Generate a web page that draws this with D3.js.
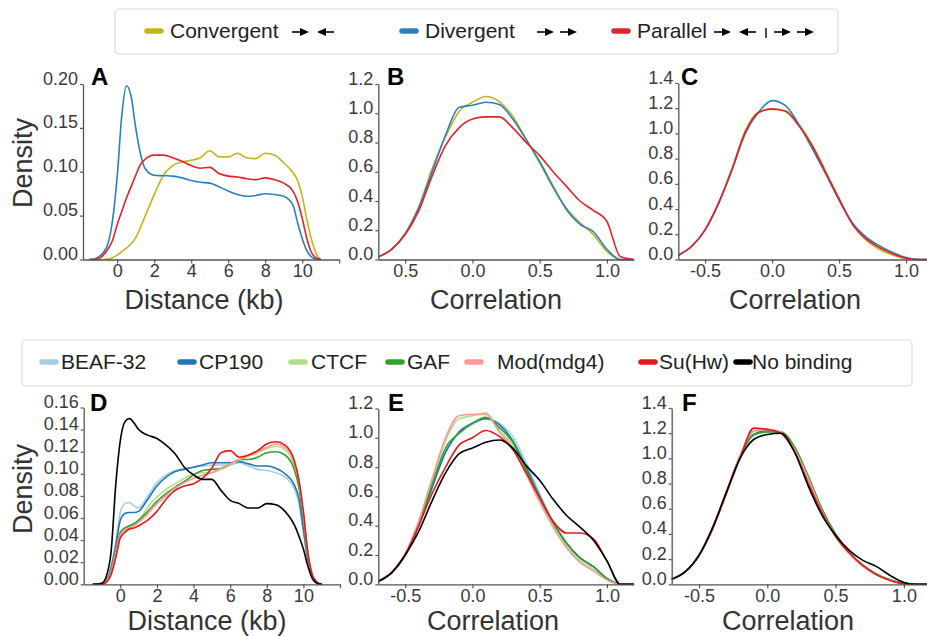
<!DOCTYPE html>
<html><head><meta charset="utf-8">
<script src="https://cdn.jsdelivr.net/npm/d3@7"></script>
<style>body{margin:0;background:#fff;} svg text{font-family:"Liberation Sans",Arial,sans-serif;}</style>
</head><body>
<script>
// ---------- categories & colours ----------
const orientNames = ["Convergent", "Divergent", "Parallel"];
const orientColors = ["#c4b41c", "#2a7fc1", "#e0242b"];
const factorNames = ["BEAF-32", "CP190", "CTCF", "GAF", "Mod(mdg4)", "Su(Hw)", "No binding"];
const factorColors = ["#a6cee3", "#1f78b4", "#b2df8a", "#33a02c", "#fb9a99", "#e31a1c", "#000000"];

// ---------- tick labels ----------
const distTicks = [0, 2, 4, 6, 8, 10, 12];
const distTickLabels = ["0", "2", "4", "6", "8", "10", ""];
const corrTicks = [-0.5, 0, 0.5, 1.0];
const corrTickLabelsB = ["0.5", "0.0", "0.5", "1.0"];
const corrTickLabels = ["-0.5", "0.0", "0.5", "1.0"];
const yTicksA = [0, 0.05, 0.10, 0.15, 0.20];
const yTicksB = [0, 0.2, 0.4, 0.6, 0.8, 1.0, 1.2];
const yTicksC = [0, 0.2, 0.4, 0.6, 0.8, 1.0, 1.2, 1.4];
const yTicksD = [0, 0.02, 0.04, 0.06, 0.08, 0.10, 0.12, 0.14, 0.16];

// ---------- panel A: distance density by orientation ----------
const gridA = [-1.5,-1.25,-1,-0.75,-0.5,-0.25,0,0.25,0.5,0.75,1,1.25,1.5,2,2.5,3,3.5,4,4.5,5,5.5,6,6.5,7,7.5,8,8.5,9,9.5,9.75,10,10.25,10.5,10.75,11];
const A_Convergent = [0,0,0,0,0.0005,0.002,0.005,0.009,0.013,0.018,0.025,0.036,0.049,0.074,0.096,0.107,0.111,0.113,0.116,0.124,0.117,0.117,0.121,0.116,0.115,0.121,0.119,0.110,0.099,0.090,0.072,0.046,0.023,0.007,0];
const A_Divergent = [0,0.0005,0.003,0.008,0.018,0.045,0.095,0.165,0.198,0.186,0.150,0.121,0.104,0.096,0.0955,0.095,0.093,0.090,0.088,0.087,0.083,0.078,0.074,0.072,0.073,0.075,0.074,0.072,0.062,0.042,0.024,0.010,0.003,0.0005,0];
const A_Parallel = [0,0,0.001,0.005,0.012,0.022,0.040,0.055,0.070,0.083,0.096,0.108,0.114,0.119,0.119,0.116,0.112,0.107,0.104,0.105,0.098,0.095,0.094,0.092,0.091,0.093,0.091,0.087,0.078,0.066,0.047,0.024,0.008,0.002,0];

// ---------- correlation grid (B, C, E, F) ----------
const gridCorr = [-0.7,-0.6,-0.5,-0.4,-0.3,-0.2,-0.1,0,0.1,0.2,0.3,0.4,0.5,0.6,0.7,0.8,0.9,1.0,1.1,1.2];

// panel B
const B_Convergent = [0.018,0.07,0.18,0.36,0.62,0.84,1.01,1.075,1.115,1.08,0.98,0.82,0.66,0.49,0.35,0.25,0.17,0.055,0,0];
const B_Divergent = [0.018,0.07,0.175,0.35,0.60,0.85,1.04,1.055,1.075,1.06,0.96,0.82,0.67,0.50,0.34,0.24,0.19,0.07,0,0];
const B_Parallel = [0.018,0.07,0.17,0.33,0.57,0.78,0.90,0.96,0.975,0.975,0.90,0.80,0.71,0.60,0.50,0.40,0.335,0.26,0.02,0];

// panel C
const C_Convergent = [0.034,0.105,0.235,0.445,0.72,1.02,1.17,1.19,1.18,1.07,0.91,0.70,0.48,0.28,0.155,0.08,0.035,0.006,0,0];
const C_Divergent = [0.034,0.105,0.235,0.445,0.71,1.0,1.17,1.26,1.22,1.07,0.88,0.68,0.47,0.29,0.18,0.11,0.055,0.015,0,0];
const C_Parallel = [0.034,0.105,0.235,0.445,0.71,1.01,1.165,1.195,1.175,1.06,0.90,0.69,0.48,0.28,0.165,0.095,0.045,0.01,0,0];

// ---------- panel D: distance density by insulator protein ----------
const gridD = [-1.5,-1,-0.75,-0.5,-0.25,0,0.25,0.5,0.75,1,1.5,2,2.5,3,3.5,4,4.5,5,5.5,6,6.5,7,7.5,8,8.5,9,9.5,9.75,10,10.25,10.5,10.75,11];
const D_BEAF32 = [0,0.001,0.004,0.016,0.038,0.065,0.073,0.074,0.071,0.069,0.080,0.092,0.099,0.103,0.105,0.106,0.107,0.108,0.108,0.108,0.110,0.107,0.104,0.103,0.101,0.097,0.087,0.074,0.047,0.020,0.005,0.001,0];
const D_CP190 = [0,0.001,0.004,0.015,0.035,0.058,0.064,0.065,0.065,0.066,0.077,0.089,0.097,0.102,0.104,0.106,0.108,0.110,0.110,0.110,0.111,0.109,0.107,0.107,0.105,0.100,0.090,0.078,0.050,0.022,0.006,0.001,0];
const D_CTCF = [0,0,0.003,0.012,0.030,0.046,0.050,0.052,0.054,0.057,0.070,0.079,0.086,0.091,0.096,0.100,0.101,0.101,0.104,0.108,0.113,0.116,0.119,0.123,0.125,0.122,0.108,0.092,0.062,0.026,0.007,0.001,0];
const D_GAF = [0,0,0.003,0.012,0.030,0.047,0.051,0.053,0.055,0.058,0.066,0.075,0.082,0.088,0.093,0.099,0.103,0.104,0.105,0.109,0.113,0.113,0.115,0.119,0.120,0.117,0.104,0.088,0.058,0.024,0.007,0.001,0];
const D_Mod = [0,0,0.003,0.011,0.028,0.045,0.049,0.051,0.053,0.056,0.064,0.073,0.080,0.087,0.092,0.096,0.099,0.101,0.105,0.109,0.113,0.116,0.120,0.124,0.127,0.124,0.110,0.094,0.063,0.027,0.008,0.001,0];
const D_SuHw = [0,0,0.002,0.009,0.024,0.042,0.047,0.050,0.051,0.053,0.058,0.066,0.077,0.085,0.089,0.091,0.096,0.105,0.119,0.121,0.115,0.117,0.121,0.127,0.129,0.126,0.112,0.095,0.066,0.028,0.008,0.002,0];
const D_None = [0,0.001,0.008,0.030,0.090,0.130,0.147,0.150,0.146,0.140,0.135,0.132,0.126,0.118,0.106,0.099,0.095,0.095,0.085,0.076,0.073,0.069,0.069,0.073,0.072,0.066,0.054,0.044,0.032,0.016,0.005,0.001,0];

// panel E
const E_BEAF32 = [0.02,0.08,0.20,0.40,0.66,0.90,1.03,1.09,1.13,1.10,1.01,0.83,0.62,0.43,0.28,0.18,0.12,0.04,0,0];
const E_CP190 = [0.02,0.08,0.20,0.40,0.66,0.90,1.04,1.10,1.13,1.09,0.98,0.80,0.60,0.42,0.28,0.18,0.12,0.04,0,0];
const E_CTCF = [0.02,0.08,0.21,0.42,0.70,0.98,1.13,1.15,1.17,1.05,0.95,0.76,0.57,0.40,0.26,0.16,0.10,0.03,0,0];
const E_GAF = [0.02,0.08,0.20,0.41,0.68,0.93,1.03,1.10,1.14,1.07,0.97,0.78,0.59,0.42,0.28,0.18,0.12,0.04,0,0];
const E_Mod = [0.02,0.08,0.21,0.43,0.72,1.00,1.15,1.16,1.16,1.04,0.93,0.75,0.56,0.39,0.25,0.15,0.09,0.03,0,0];
const E_SuHw = [0.02,0.08,0.20,0.40,0.62,0.80,0.95,1.00,1.05,1.01,0.92,0.76,0.59,0.43,0.35,0.35,0.31,0.16,0,0];
const E_None = [0.02,0.08,0.20,0.36,0.57,0.76,0.89,0.93,0.97,0.985,0.93,0.81,0.71,0.58,0.47,0.39,0.30,0.16,0,0];

// panel F
const F_BEAF32 = [0.04,0.10,0.23,0.45,0.73,1.02,1.18,1.21,1.21,1.07,0.83,0.58,0.39,0.25,0.15,0.08,0.035,0.008,0,0];
const F_CP190 = [0.04,0.10,0.23,0.45,0.73,1.02,1.19,1.22,1.21,1.07,0.84,0.58,0.39,0.25,0.15,0.08,0.035,0.008,0,0];
const F_CTCF = [0.04,0.10,0.23,0.45,0.73,1.02,1.21,1.23,1.21,1.08,0.85,0.59,0.39,0.25,0.15,0.08,0.035,0.008,0,0];
const F_GAF = [0.04,0.10,0.23,0.45,0.73,1.01,1.19,1.21,1.21,1.09,0.86,0.60,0.40,0.25,0.15,0.08,0.035,0.008,0,0];
const F_Mod = [0.04,0.10,0.23,0.45,0.73,1.02,1.22,1.23,1.21,1.07,0.84,0.58,0.38,0.24,0.14,0.075,0.03,0.006,0,0];
const F_SuHw = [0.04,0.10,0.23,0.44,0.72,1.00,1.24,1.23,1.20,1.05,0.80,0.57,0.38,0.25,0.15,0.075,0.03,0.005,0,0];
const F_None = [0.04,0.10,0.23,0.45,0.73,1.00,1.15,1.19,1.20,1.05,0.78,0.55,0.39,0.27,0.19,0.14,0.07,0.015,0,0];

// ---------- drawing ----------
const FONT = "Liberation Sans, Arial, sans-serif";
const svg = d3.select("body").append("svg").attr("width", 927).attr("height", 636)
  .style("background", "#fff");

function drawPanel(p) {
  const x = d3.scaleLinear().domain(p.xDomain).range(p.xRange);
  const y = d3.scaleLinear().domain(p.yDomain).range(p.yRange);
  const g = svg.append("g");

  const line = d3.line().x((d, i) => x(p.grid[i])).y(d => y(d)).curve(d3.curveMonotoneX);
  p.series.forEach((vals, i) => {
    g.append("path").attr("d", line(vals)).attr("fill", "none")
      .attr("stroke", p.colors[i]).attr("stroke-width", 1.6).attr("stroke-linejoin", "round");
  });

  const xa = g.append("g").attr("transform", `translate(0,${p.yRange[0]})`)
    .call(d3.axisBottom(x).tickValues(p.xTicks).tickSizeInner(4).tickSizeOuter(0).tickPadding(1)
      .tickFormat((d, i) => p.xLabels[i]));
  const ya = g.append("g").attr("transform", `translate(${p.xRange[0]},0)`)
    .call(d3.axisLeft(y).tickValues(p.yTicks).tickSizeInner(3).tickSizeOuter(0).tickPadding(2)
      .tickFormat(p.yFmt));
  ya.selectAll("text").attr("dy", "0");
  [xa, ya].forEach(a => {
    a.attr("font-size", 18).attr("font-family", FONT);
    a.select(".domain").attr("stroke", "#555").attr("stroke-width", 1.3);
    a.selectAll(".tick line").attr("stroke", "#555").attr("stroke-width", 1.2);
    a.selectAll(".tick text").attr("fill", "#3a3a3a");
  });

  g.append("text").attr("x", p.letterX).attr("y", p.letterY).text(p.letter)
    .attr("font-family", FONT).attr("font-weight", "bold").attr("font-size", 24).attr("fill", "#000");

  g.append("text").attr("x", p.xTitleX).attr("y", p.xTitleY).attr("dy", "0.35em")
    .attr("text-anchor", "middle").attr("font-family", FONT).attr("font-size", 27)
    .attr("fill", "#333").text(p.xTitle);

  if (p.yTitle) {
    g.append("text").attr("transform", `translate(${p.yTitleX},${p.yTitleY}) rotate(-90)`)
      .attr("dy", "0.35em").attr("text-anchor", "middle").attr("font-family", FONT)
      .attr("font-size", 27).attr("fill", "#333").text(p.yTitle);
  }
}

const f2 = d3.format(".2f"), f1 = d3.format(".1f");
const orientSeries = { A: [A_Convergent, A_Divergent, A_Parallel], B: [B_Convergent, B_Divergent, B_Parallel], C: [C_Convergent, C_Divergent, C_Parallel] };
const factorSeries = {
  D: [D_BEAF32, D_CP190, D_CTCF, D_GAF, D_Mod, D_SuHw, D_None],
  E: [E_BEAF32, E_CP190, E_CTCF, E_GAF, E_Mod, E_SuHw, E_None],
  F: [F_BEAF32, F_CP190, F_CTCF, F_GAF, F_Mod, F_SuHw, F_None]
};

// top row
drawPanel({ grid: gridA, series: orientSeries.A, colors: orientColors,
  xDomain: [-1.85, 12], xRange: [83, 339.2], yDomain: [0, 0.2], yRange: [259.5, 84],
  xTicks: distTicks, xLabels: distTickLabels, yTicks: yTicksA, yFmt: f2,
  letter: "A", letterX: 91, letterY: 85, xTitle: "Distance (kb)", xTitleX: 204, xTitleY: 300,
  yTitle: "Density", yTitleX: 23, yTitleY: 163 });
drawPanel({ grid: gridCorr, series: orientSeries.B, colors: orientColors,
  xDomain: [-0.7, 1.2], xRange: [378.3, 633.8], yDomain: [0, 1.2], yRange: [259.5, 84],
  xTicks: corrTicks, xLabels: corrTickLabelsB, yTicks: yTicksB, yFmt: f1,
  letter: "B", letterX: 387, letterY: 85, xTitle: "Correlation", xTitleX: 496, xTitleY: 300 });
drawPanel({ grid: gridCorr, series: orientSeries.C, colors: orientColors,
  xDomain: [-0.7, 1.2], xRange: [678.3, 932.9], yDomain: [0, 1.4], yRange: [259.5, 83],
  xTicks: corrTicks, xLabels: corrTickLabels, yTicks: yTicksC, yFmt: f1,
  letter: "C", letterX: 681, letterY: 85, xTitle: "Correlation", xTitleX: 795, xTitleY: 300 });

// bottom row
drawPanel({ grid: gridD, series: factorSeries.D, colors: factorColors,
  xDomain: [-2, 12], xRange: [83.7, 340], yDomain: [0, 0.16], yRange: [584.3, 407.5],
  xTicks: distTicks, xLabels: distTickLabels, yTicks: yTicksD, yFmt: f2,
  letter: "D", letterX: 90, letterY: 411, xTitle: "Distance (kb)", xTitleX: 207, xTitleY: 621,
  yTitle: "Density", yTitleX: 23, yTitleY: 489 });
drawPanel({ grid: gridCorr, series: factorSeries.E, colors: factorColors,
  xDomain: [-0.7, 1.2], xRange: [378.3, 633.8], yDomain: [0, 1.2], yRange: [584.3, 408.5],
  xTicks: corrTicks, xLabels: corrTickLabels, yTicks: yTicksB, yFmt: f1,
  letter: "E", letterX: 388, letterY: 411, xTitle: "Correlation", xTitleX: 493, xTitleY: 621 });
drawPanel({ grid: gridCorr, series: factorSeries.F, colors: factorColors,
  xDomain: [-0.7, 1.2], xRange: [671.7, 931.2], yDomain: [0, 1.4], yRange: [584.3, 408],
  xTicks: corrTicks, xLabels: corrTickLabels, yTicks: yTicksC, yFmt: f1,
  letter: "F", letterX: 682, letterY: 411, xTitle: "Correlation", xTitleX: 788, xTitleY: 621 });

// ---------- legends ----------
function legendBox(x0, y0, w, h) {
  svg.append("rect").attr("x", x0).attr("y", y0).attr("width", w).attr("height", h)
    .attr("rx", 4).attr("fill", "#fff").attr("stroke", "#dcdcdc").attr("stroke-width", 1.2);
}
function legendItem(xs, xt, y, color, label) {
  svg.append("line").attr("x1", xs).attr("x2", xs + 14).attr("y1", y).attr("y2", y)
    .attr("stroke", color).attr("stroke-width", 5.5).attr("stroke-linecap", "round");
  svg.append("text").attr("x", xt).attr("y", y).attr("dy", "0.35em").attr("font-family", FONT)
    .attr("font-size", 21).attr("fill", "#222").text(label);
}
function arrow(xTail, y, dir) {
  svg.append("line").attr("x1", xTail).attr("x2", xTail + dir * 10).attr("y1", y).attr("y2", y)
    .attr("stroke", "#000").attr("stroke-width", 1.6);
  const b = xTail + dir * 8, t = xTail + dir * 17;
  svg.append("path").attr("d", `M${b},${y - 4}L${t},${y}L${b},${y + 4}Z`).attr("fill", "#000");
}

// top legend (orientation)
legendBox(115, 9, 723, 45);
const topY = 31;
const topSampleX = [147, 402, 614];
const topTextX = [170, 425, 637];
orientNames.forEach((n, i) => legendItem(topSampleX[i], topTextX[i], topY, orientColors[i], n));
arrow(292, topY + 1, 1); arrow(334, topY + 1, -1);
arrow(537, topY + 1, 1); arrow(560, topY + 1, 1);
arrow(714, topY + 1, 1); arrow(756, topY + 1, -1);
svg.append("line").attr("x1", 766).attr("x2", 766).attr("y1", topY - 3).attr("y2", topY + 7)
  .attr("stroke", "#000").attr("stroke-width", 1.4);
arrow(774, topY + 1, 1); arrow(797, topY + 1, 1);

// bottom legend (factors)
legendBox(22, 340, 890, 46);
const botY = 362;
const botSampleX = [42, 180, 291, 388, 467, 641, 736];
const botTextX = [61, 199, 311, 407, 497, 659, 752];
factorNames.forEach((n, i) => legendItem(botSampleX[i], botTextX[i], botY, factorColors[i], n));
</script>
</body></html>
